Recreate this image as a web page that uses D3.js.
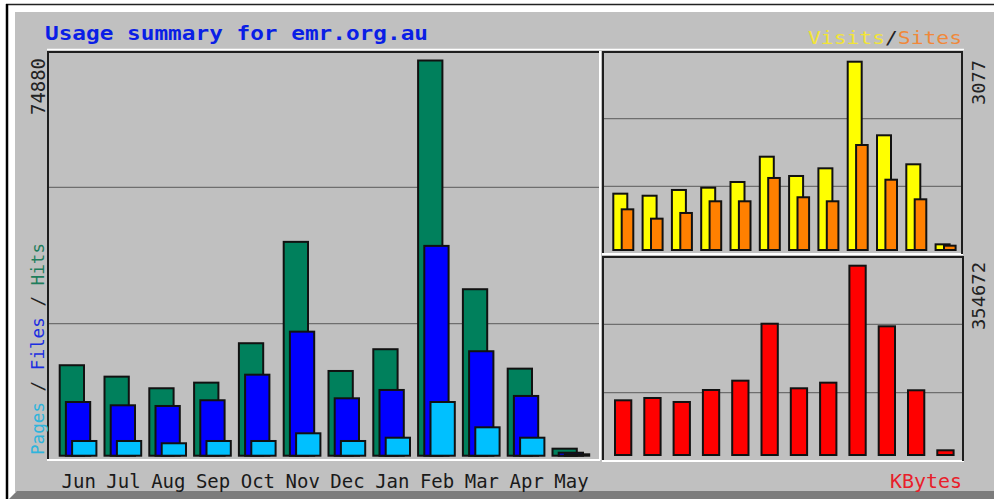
<!DOCTYPE html>
<html>
<head>
<meta charset="utf-8">
<script src="https://cdn.jsdelivr.net/npm/d3@7"></script>
<style>
body { margin: 0; background: #fff; }
svg text { font-family: "DejaVu Sans Mono", "Liberation Mono", monospace; }
</style>
</head>
<body>
<svg width="994" height="499"></svg>
<script>
// monthly usage
var months = ['Jun', 'Jul', 'Aug', 'Sep', 'Oct', 'Nov', 'Dec', 'Jan', 'Feb', 'Mar', 'Apr', 'May'];
var hits   = [17430, 15280, 13090, 14150, 21580, 40690, 16350, 20450, 74880, 31760, 16790, 1700];
var files  = [10500, 9880, 9750, 10830, 15650, 23760, 11200, 12770, 39930, 20070, 11640, 940];
var pages  = [3150, 3150, 2720, 3150, 3150, 4600, 3150, 3770, 10500, 5730, 3770, 640];
var visits = [943, 910, 1003, 1040, 1132, 1541, 1229, 1353, 3077, 1887, 1418, 124];
var sites  = [690, 539, 631, 820, 820, 1197, 885, 820, 1730, 1169, 852, 102];
var kbytes = [105100, 109400, 102000, 124200, 141500, 247100, 127400, 137800, 354672, 242300, 123700, 12400];
var axisMax = { hits: 74880, visits: 3077, kbytes: 354672 };

var colors = {
	hits: '#00805c', files: '#0000ff', pages: '#00c0ff',
	visits: '#ffff00', sites: '#ff8000', kbytes: '#ff0000',
	bg: '#c0c0c0', grid: '#6e6e6e', dark: '#1e1e1e'
};

var svg = d3.select('svg');

// outer frame: black image border, raised bevel, grey face
svg.append('rect').attr('x', 15).attr('y', 12).attr('width', 979).attr('height', 480).attr('fill', colors.bg);
svg.append('polygon').attr('points', '9,499 17,491 994,491 994,499').attr('fill', '#7c7c7c');
svg.append('line').attr('x1', 6).attr('x2', 994).attr('y1', 4.5).attr('y2', 4.5).attr('stroke', '#222').attr('stroke-width', 1.5);
svg.append('line').attr('x1', 7).attr('x2', 7).attr('y1', 4).attr('y2', 499).attr('stroke', '#000').attr('stroke-width', 2.5);

// panels
var left = { x0: 47, x1: 600, y0: 51, y1: 460 };
var topR = { x0: 602, x1: 963, y0: 51, y1: 254 };
var botR = { x0: 602, x1: 964, y0: 256, y1: 461 };

function line(x1, y1, x2, y2, color, w) {
	svg.append('line')
		.attr('x1', x1).attr('y1', y1).attr('x2', x2).attr('y2', y2)
		.attr('stroke', color).attr('stroke-width', w || 2);
}

function gridlines(p) {
	var h = p.y1 - p.y0;
	[1 / 3, 2 / 3].forEach(function (f) {
		line(p.x0 + 1, p.y0 + h * f, p.x1 - 1, p.y0 + h * f, colors.grid, 1.3);
	});
}

function sunken(p, darkRight) {
	line(p.x0, p.y0 + 1, p.x1, p.y0 + 1, colors.dark);
	line(p.x0 + 1, p.y0, p.x0 + 1, p.y1, colors.dark);
	line(p.x0, p.y1, p.x1, p.y1, '#ffffff');
	if (darkRight) line(p.x1 - 1, p.y0, p.x1 - 1, p.y1, colors.dark);
	else line(p.x1, p.y0, p.x1, p.y1, '#ffffff');
}

line(47, 49.5, 964, 49.5, '#ffffff', 1.5);
[left, topR, botR].forEach(gridlines);

// scales
var xLeft = d3.scaleBand().domain(months).range([58.7, 58.7 + 12 * 44.8]);
var xRight = d3.scaleBand().domain(months).range([612.3, 612.3 + 12 * 29.3]);
var yHits = d3.scaleLinear().domain([0, axisMax.hits]).range([456.7, 59.5]);
var yVisits = d3.scaleLinear().domain([0, axisMax.visits]).range([251, 60.7]);
var yKBytes = d3.scaleLinear().domain([0, axisMax.kbytes]).range([456, 264.7]);

function bars(cls, values, x, y, offset, width, fill) {
	svg.append('g').attr('class', cls).selectAll('rect')
		.data(values)
		.enter().append('rect')
			.attr('x', function (d, i) { return x(months[i]) + offset + 1; })
			.attr('y', function (d) { return y(d) + 1; })
			.attr('width', width - 2)
			.attr('height', function (d) { return Math.max(0.5, y(0) - y(d) - 2); })
			.attr('fill', fill)
			.attr('stroke', '#111')
			.attr('stroke-width', 2);
}

bars('hits', hits, xLeft, yHits, 0, 26.3, colors.hits);
bars('files', files, xLeft, yHits, 6.2, 26.3, colors.files);
bars('pages', pages, xLeft, yHits, 12.4, 26.3, colors.pages);
bars('visits', visits, xRight, yVisits, 0, 16, colors.visits);
bars('sites', sites, xRight, yVisits, 8.4, 13.6, colors.sites);
bars('kbytes', kbytes, xRight, yKBytes, 1.7, 18.3, colors.kbytes);

sunken(left, false);
sunken(topR, true);
sunken(botR, true);

// month labels under the left panel
svg.append('g').selectAll('text')
	.data(months)
	.enter().append('text')
		.attr('x', function (d) { return xLeft(d) + 20; })
		.attr('y', 488)
		.attr('text-anchor', 'middle')
		.attr('font-size', 19)
		.attr('fill', '#1a1a1a')
		.text(function (d) { return d; });

// titles
svg.append('text')
	.attr('x', 45).attr('y', 39.5)
	.attr('font-size', 20).attr('font-weight', 'bold')
	.attr('textLength', 383).attr('lengthAdjust', 'spacingAndGlyphs')
	.attr('fill', '#0a1ee6')
	.text('Usage summary for emr.org.au');

var vs = svg.append('text')
	.attr('x', 962).attr('y', 44).attr('text-anchor', 'end')
	.attr('font-size', 18)
	.attr('textLength', 154).attr('lengthAdjust', 'spacingAndGlyphs');
vs.append('tspan').attr('fill', '#f2e437').text('Visits');
vs.append('tspan').attr('fill', '#222').text('/');
vs.append('tspan').attr('fill', '#f0883a').text('Sites');

svg.append('text')
	.attr('x', 962).attr('y', 488).attr('text-anchor', 'end')
	.attr('font-size', 19)
	.attr('textLength', 72).attr('lengthAdjust', 'spacingAndGlyphs')
	.attr('fill', '#e8202a')
	.text('KBytes');

// rotated axis labels
function vtext(x, y, size, len) {
	return svg.append('text')
		.attr('transform', 'translate(' + x + ',' + y + ') rotate(-90)')
		.attr('font-size', size)
		.attr('textLength', len).attr('lengthAdjust', 'spacingAndGlyphs');
}

vtext(45, 115, 19, 57).attr('fill', '#222').text(d3.format('d')(axisMax.hits));
vtext(985, 105, 18, 45).attr('fill', '#222').text(d3.format('d')(axisMax.visits));
vtext(985, 330, 18, 68).attr('fill', '#222').text(d3.format('d')(axisMax.kbytes));

var pfh = vtext(44, 455, 18, 212);
pfh.append('tspan').attr('fill', '#2fb4dc').text('Pages');
pfh.append('tspan').attr('fill', '#222').text(' / ');
pfh.append('tspan').attr('fill', '#1c2ee0').text('Files');
pfh.append('tspan').attr('fill', '#222').text(' / ');
pfh.append('tspan').attr('fill', '#1f7d5c').text('Hits');
</script>
</body>
</html>
